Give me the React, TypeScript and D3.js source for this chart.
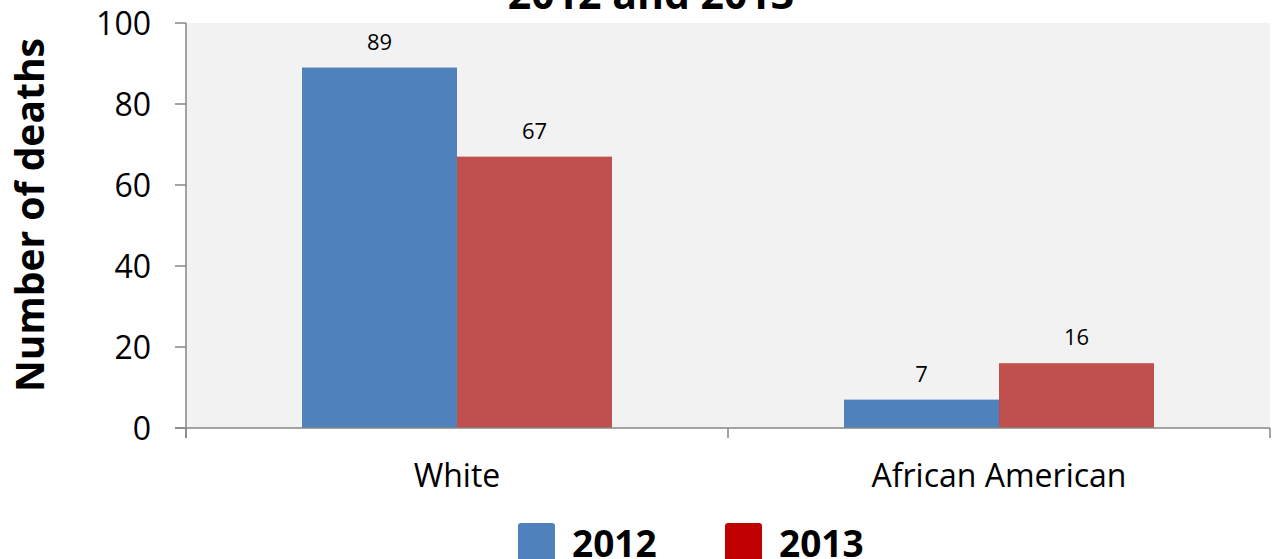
import React from "react";
import * as d3 from "d3";

const categories = ["White", "African American"];
const seriesNames = ["2012", "2013"];
const values2012 = [89, 7];
const values2013 = [67, 16];
const yTicks = [0, 20, 40, 60, 80, 100];
const barColors = ["#4F81BD", "#C0504D"];
const legendColors = ["#4F81BD", "#C00000"];

const W = 1276;
const H = 559;
const plot = { left: 186, right: 1270, top: 23, bottom: 428 };
const FONT = "'Open Sans', sans-serif";

export default function App() {
  const series = [values2012, values2013];
  const y = d3.scaleLinear().domain([0, 100]).range([plot.bottom, plot.top]);
  const x0 = d3.scaleBand<string>().domain(categories).range([plot.left, plot.right]).paddingInner(0).paddingOuter(0);
  const bw = x0.bandwidth();
  const groupW = bw * (310 / 542);
  const x1 = d3.scaleBand<string>().domain(seriesNames).range([0, groupW]).padding(0);
  const axisColor = "#868686";

  return (
    <svg width={W} height={H} style={{ position: "absolute", left: 0, top: 0 }} fontFamily={FONT}>
      <rect x={0} y={0} width={W} height={H} fill="#ffffff" />
      <text x={651} y={9} textAnchor="middle" fontSize={41} fontWeight="bold" fill="#000">
        2012 and 2013
      </text>
      <rect x={plot.left} y={plot.top} width={plot.right - plot.left} height={plot.bottom - plot.top} fill="#F2F2F2" />
      {categories.map((c, ci) =>
        seriesNames.map((s, si) => {
          const v = series[si][ci];
          const bx = (x0(c) as number) + (bw - groupW) / 2 + (x1(s) as number);
          const bwid = x1.bandwidth();
          return (
            <g key={c + s}>
              <rect x={bx} y={y(v)} width={bwid} height={y(0) - y(v)} fill={barColors[si]} />
              <text x={bx + bwid / 2} y={y(v) - 18} textAnchor="middle" fontSize={22} fill="#000">
                {v}
              </text>
            </g>
          );
        })
      )}
      {/* y axis */}
      <line x1={plot.left} x2={plot.left} y1={plot.top} y2={plot.bottom + 10} stroke={axisColor} strokeWidth={1.5} />
      {yTicks.map((t) => (
        <g key={t}>
          <line x1={plot.left - 11} x2={plot.left} y1={y(t)} y2={y(t)} stroke={axisColor} strokeWidth={1.5} />
          <text x={151} y={y(t)} dy="0.36em" textAnchor="end" fontSize={32} fill="#000">
            {t}
          </text>
        </g>
      ))}
      {/* x axis */}
      <line x1={plot.left - 11} x2={plot.right} y1={plot.bottom} y2={plot.bottom} stroke={axisColor} strokeWidth={1.5} />
      {[...categories.map((c) => x0(c) as number), plot.right].map((tx, i) => (
        <line key={i} x1={tx} x2={tx} y1={plot.bottom} y2={plot.bottom + 10} stroke={axisColor} strokeWidth={1.5} />
      ))}
      {categories.map((c) => (
        <text key={c} x={(x0(c) as number) + bw / 2} y={487} textAnchor="middle" fontSize={32} fill="#000">
          {c}
        </text>
      ))}
      <text
        transform={`translate(44, 215) rotate(-90)`}
        textAnchor="middle"
        fontSize={39}
        fontWeight="bold"
        fill="#000"
      >
        Number of deaths
      </text>
      {/* legend */}
      {seriesNames.map((s, i) => {
        const lx = 518 + i * 207;
        return (
          <g key={s}>
            <rect x={lx} y={523} width={37} height={40} rx={3} fill={legendColors[i]} />
            <text x={lx + 54} y={557} fontSize={37} fontWeight="bold" fill="#000">
              {s}
            </text>
          </g>
        );
      })}
    </svg>
  );
}
